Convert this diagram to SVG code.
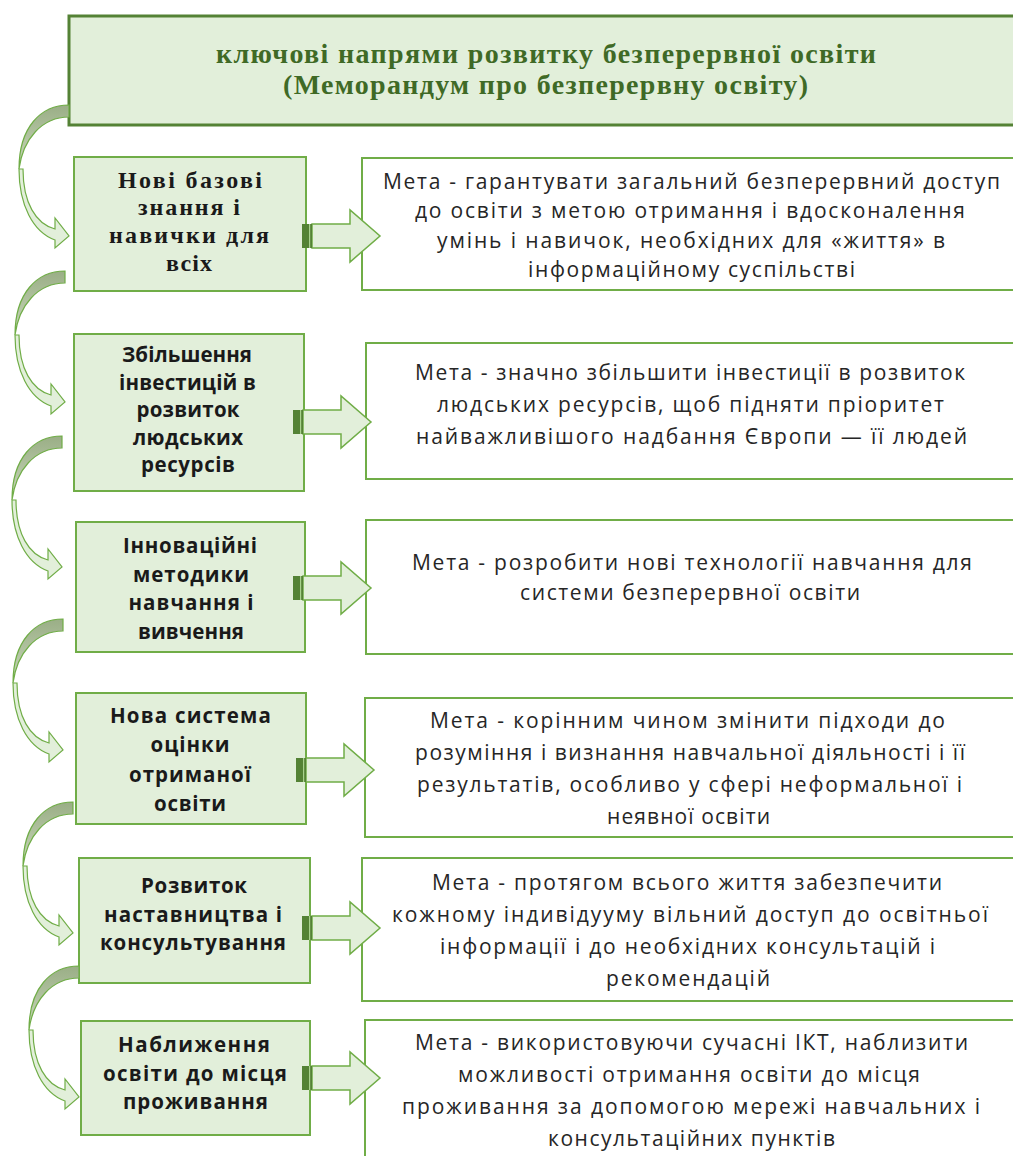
<svg xmlns="http://www.w3.org/2000/svg" width="1013" height="1156" viewBox="0 0 1013 1156">
<style>
.bg{fill:#ffffff}
.title-box{fill:#e2efda;stroke:#548235;stroke-width:3}
.lbox{fill:#e2efda;stroke:#70ad47;stroke-width:2}
.rbox{fill:#ffffff;stroke:#70ad47;stroke-width:2}
.title{font-family:"Liberation Serif","DejaVu Serif",serif;font-weight:bold;font-size:28px;fill:#3f6a26;text-anchor:middle}
.ser{font-family:"Liberation Serif","DejaVu Serif",serif;font-weight:bold;font-size:24px;fill:#1a1a1a;text-anchor:middle}
.lt{font-family:"Open Sans","Liberation Sans",sans-serif;font-weight:bold;font-size:20.5px;fill:#1a1a1a;text-anchor:middle}
.rt{font-family:"Open Sans","Liberation Sans",sans-serif;font-size:21px;fill:#262626;text-anchor:middle}
.arr-body{fill:#e2efda;stroke:#70ad47;stroke-width:1.5;stroke-linejoin:miter}
.arr-bar{fill:#548235}
.arr-stripe{fill:#a9d18e}
.cv-dark{fill:url(#cvgrad);stroke:#70ad47;stroke-width:1.2}
.cv-light{fill:#e2efda;stroke:#70ad47;stroke-width:1.2}
</style>
<defs>
<linearGradient id="cvgrad" x1="0" y1="0" x2="0" y2="1">
<stop offset="0" stop-color="#9aae86"/>
<stop offset="1" stop-color="#c9d8bb"/>
</linearGradient>
<g id="curved">
<path class="cv-dark" d="M0,0 C-28,0 -50,22 -50,64 C-46,34 -27,12 0,12 Z"/>
<path class="cv-light" d="M-50,64 C-50,100 -36,127 -14,135 L-14,143 L0,131 L-14,113 L-14,124 C-33,119 -46,98 -46,64 Z"/>
</g>
<g id="blockarrow">
<path class="arr-body" d="M10,-12 L48,-12 L48,-26 L78,0 L48,26 L48,12 L10,12 Z"/>
<rect class="arr-bar" x="0" y="-12" width="10" height="24"/>
<rect class="arr-stripe" x="7" y="-12" width="1.2" height="24"/>
</g>
</defs>
<rect class="bg" x="0" y="0" width="1013" height="1156"/>

<g id="title">
<rect class="title-box" x="69" y="16" width="960" height="109"/>
<text class="title" x="546" y="63" textLength="660" lengthAdjust="spacing">ключові напрями розвитку безперервної освіти</text>
<text class="title" x="545.5" y="94" textLength="525" lengthAdjust="spacing">(Меморандум про безперервну освіту)</text>
</g>

<g id="n1">
<rect class="lbox" x="74" y="157" width="232" height="134"/>
<text class="ser" x="190" y="188" textLength="144" lengthAdjust="spacing">Нові базові</text>
<text class="ser" x="189" y="215" textLength="102" lengthAdjust="spacing">знання і</text>
<text class="ser" x="189" y="243" textLength="160" lengthAdjust="spacing">навички для</text>
<text class="ser" x="189" y="271" textLength="46" lengthAdjust="spacing">всіх</text>
</g>
<g id="n2">
<rect class="lbox" x="74" y="334" width="230" height="157"/>
<text class="lt" x="187" y="362" textLength="130" lengthAdjust="spacing">Збільшення</text>
<text class="lt" x="187.5" y="390" textLength="137" lengthAdjust="spacing">інвестицій в</text>
<text class="lt" x="188" y="417" textLength="103" lengthAdjust="spacing">розвиток</text>
<text class="lt" x="188" y="445" textLength="110" lengthAdjust="spacing">людських</text>
<text class="lt" x="188" y="472" textLength="94" lengthAdjust="spacing">ресурсів</text>
</g>
<g id="n3">
<rect class="lbox" x="76" y="522" width="229" height="130"/>
<text class="lt" x="190" y="553" textLength="134" lengthAdjust="spacing">Інноваційні</text>
<text class="lt" x="191" y="582" textLength="116" lengthAdjust="spacing">методики</text>
<text class="lt" x="191" y="610" textLength="125" lengthAdjust="spacing">навчання  і</text>
<text class="lt" x="191" y="639" textLength="106" lengthAdjust="spacing">вивчення</text>
</g>
<g id="n4">
<rect class="lbox" x="76" y="693" width="230" height="131"/>
<text class="lt" x="190.5" y="723" textLength="161" lengthAdjust="spacing">Нова система</text>
<text class="lt" x="190" y="752" textLength="79" lengthAdjust="spacing">оцінки</text>
<text class="lt" x="190" y="782" textLength="122" lengthAdjust="spacing">отриманої</text>
<text class="lt" x="190" y="811" textLength="72" lengthAdjust="spacing">освіти</text>
</g>
<g id="n5">
<rect class="lbox" x="79" y="858" width="231" height="125"/>
<text class="lt" x="194" y="893" textLength="106" lengthAdjust="spacing">Розвиток</text>
<text class="lt" x="193" y="922" textLength="178" lengthAdjust="spacing">наставництва  і</text>
<text class="lt" x="193" y="950" textLength="186" lengthAdjust="spacing">консультування</text>
</g>
<g id="n6">
<rect class="lbox" x="81" y="1021" width="229" height="114"/>
<text class="lt" x="194" y="1052" textLength="152" lengthAdjust="spacing">Наближення</text>
<text class="lt" x="195" y="1081" textLength="184" lengthAdjust="spacing">освіти до місця</text>
<text class="lt" x="195.5" y="1109" textLength="145" lengthAdjust="spacing">проживання</text>
</g>

<g id="r1">
<rect class="rbox" x="362" y="158" width="660" height="132"/>
<text class="rt" x="691.5" y="189" textLength="617" lengthAdjust="spacing">Мета - гарантувати загальний  безперервний доступ</text>
<text class="rt" x="690" y="218" textLength="550" lengthAdjust="spacing">до освіти з метою отримання і вдосконалення</text>
<text class="rt" x="691" y="248" textLength="508" lengthAdjust="spacing">умінь і навичок, необхідних для «життя» в</text>
<text class="rt" x="691.5" y="277" textLength="327" lengthAdjust="spacing">інформаційному  суспільстві</text>
</g>
<g id="r2">
<rect class="rbox" x="366" y="343" width="660" height="136"/>
<text class="rt" x="690" y="380" textLength="550" lengthAdjust="spacing">Мета - значно збільшити інвестиції в розвиток</text>
<text class="rt" x="690.5" y="412" textLength="507" lengthAdjust="spacing">людських ресурсів, щоб підняти пріоритет</text>
<text class="rt" x="691.5" y="444" textLength="551" lengthAdjust="spacing">найважливішого  надбання  Європи — її людей</text>
</g>
<g id="r3">
<rect class="rbox" x="366" y="520" width="660" height="134"/>
<text class="rt" x="692" y="570" textLength="560" lengthAdjust="spacing">Мета - розробити нові технології навчання  для</text>
<text class="rt" x="690" y="600" textLength="340" lengthAdjust="spacing">системи безперервної освіти</text>
</g>
<g id="r4">
<rect class="rbox" x="365" y="698" width="660" height="139"/>
<text class="rt" x="687.5" y="728" textLength="515" lengthAdjust="spacing">Мета - корінним чином змінити підходи до</text>
<text class="rt" x="690" y="760" textLength="550" lengthAdjust="spacing">розуміння  і визнання навчальної діяльності і її</text>
<text class="rt" x="689.5" y="792" textLength="545" lengthAdjust="spacing">результатів, особливо у сфері неформальної і</text>
<text class="rt" x="688.5" y="824" textLength="163" lengthAdjust="spacing">неявної освіти</text>
</g>
<g id="r5">
<rect class="rbox" x="362" y="858" width="660" height="143"/>
<text class="rt" x="687" y="890" textLength="510" lengthAdjust="spacing">Мета - протягом всього життя забезпечити</text>
<text class="rt" x="690" y="922" textLength="596" lengthAdjust="spacing">кожному індивідууму вільний доступ до освітньої</text>
<text class="rt" x="687.5" y="954" textLength="495" lengthAdjust="spacing">інформації  і до необхідних консультацій  і</text>
<text class="rt" x="688" y="986" textLength="164" lengthAdjust="spacing">рекомендацій</text>
</g>
<g id="r6">
<rect class="rbox" x="365" y="1020" width="660" height="150"/>
<text class="rt" x="691.5" y="1050" textLength="553" lengthAdjust="spacing">Мета - використовуючи сучасні ІКТ, наблизити</text>
<text class="rt" x="689" y="1082" textLength="462" lengthAdjust="spacing">можливості отримання освіти до місця</text>
<text class="rt" x="691" y="1114" textLength="578" lengthAdjust="spacing">проживання за допомогою мережі навчальних  і</text>
<text class="rt" x="691.5" y="1146" textLength="287" lengthAdjust="spacing">консультаційних  пунктів</text>
</g>

<g id="connectors">
<use href="#curved" transform="translate(69,105)"/>
<use href="#curved" transform="translate(65,271)"/>
<use href="#curved" transform="translate(62,436)"/>
<use href="#curved" transform="translate(63,619)"/>
<use href="#curved" transform="translate(73,802)"/>
<use href="#curved" transform="translate(79,966)"/>
<use href="#blockarrow" transform="translate(302,236)"/>
<use href="#blockarrow" transform="translate(293,422)"/>
<use href="#blockarrow" transform="translate(293,588)"/>
<use href="#blockarrow" transform="translate(296,770)"/>
<use href="#blockarrow" transform="translate(302,928)"/>
<use href="#blockarrow" transform="translate(302,1078)"/>
</g>
</svg>
